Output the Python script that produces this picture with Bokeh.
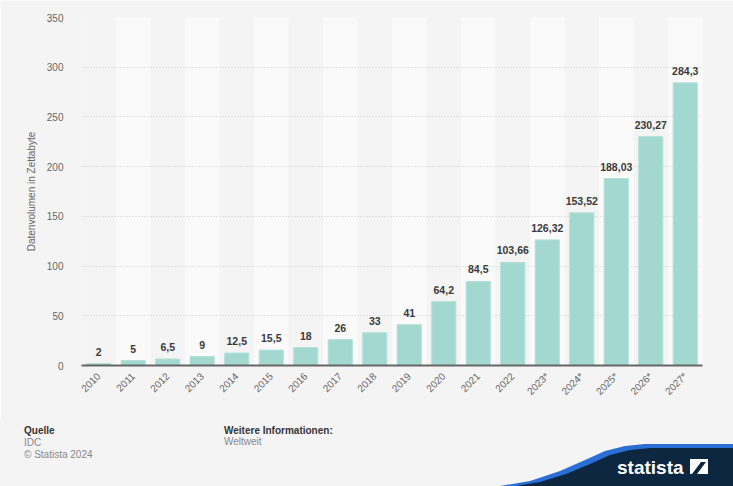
import math
from bokeh.plotting import figure
from bokeh.layouts import column
from bokeh.models import Range1d, FactorRange, ColumnDataSource, Div
from bokeh.core.properties import value
from bokeh.embed import file_html
from bokeh.resources import INLINE

# ---- data ----
years = ["2010", "2011", "2012", "2013", "2014", "2015", "2016", "2017", "2018",
         "2019", "2020", "2021", "2022", "2023*", "2024*", "2025*", "2026*", "2027*"]
volumes = [2, 5, 6.5, 9, 12.5, 15.5, 18, 26, 33, 41, 64.2, 84.5, 103.66,
           126.32, 153.52, 188.03, 230.27, 284.3]
y_ticks = [0, 50, 100, 150, 200, 250, 300, 350]
y_title = "Datenvolumen in Zettabyte"
source_lines = ["Quelle", "IDC", "© Statista 2024"]
info_lines = ["Weitere Informationen:", "Weltweit"]
logo_text = "statista"

labels = [f"{v:g}".replace(".", ",") for v in volumes]

# ---- layout constants (page pixels) ----
W = 733
H_MAIN, H_FOOT = 420, 66
FL, FR, FT = 81, 31, 17
FB = H_MAIN - 365
FONT = "Liberation Sans"
BG = "#f4f4f4"

p = figure(width=W, height=H_MAIN, x_range=FactorRange(*years, range_padding=0),
           y_range=Range1d(0, 350), output_backend="svg", toolbar_location=None,
           min_border_left=FL, min_border_right=FR, min_border_top=FT,
           min_border_bottom=FB, background_fill_color=BG, border_fill_color=BG,
           outline_line_color=None)

# alternating column stripes
p.vbar(x=years[1::2], top=350, bottom=0, width=1, fill_color="#fafafa",
       line_color=None, level="image")

src = ColumnDataSource(dict(x=years, top=volumes, label=labels))
p.vbar(x="x", top="top", width=0.7, source=src, fill_color="#a3d8d1",
       line_color="#b4e0da", line_width=1)
p.text(x="x", y="top", text="label", source=src, text_align="center",
       text_baseline="alphabetic", y_offset=-12, text_font=value(FONT),
       text_font_style="bold", text_font_size="10.5px", text_color="#3a3a3a")

# grid
p.xgrid.grid_line_color = None
p.ygrid.ticker = y_ticks
p.ygrid.grid_line_color = "#cccccc"
p.ygrid.grid_line_dash = "1 2"

# y axis
p.yaxis.ticker = y_ticks
p.yaxis.axis_line_color = None
p.yaxis.major_tick_line_color = None
p.yaxis.major_tick_out = 0
p.yaxis.minor_tick_line_color = None
p.yaxis.major_label_standoff = 18
p.yaxis.major_label_text_font = FONT
p.yaxis.major_label_text_font_size = "10px"
p.yaxis.major_label_text_color = "#666666"
p.yaxis.axis_label = y_title
p.yaxis.axis_label_text_font = FONT
p.yaxis.axis_label_text_font_size = "10px"
p.yaxis.axis_label_text_font_style = "normal"
p.yaxis.axis_label_text_color = "#666666"
p.yaxis.axis_label_standoff = 7

# x axis
p.xaxis.axis_line_color = "#666666"
p.xaxis.axis_line_width = 2
p.xaxis.major_tick_line_color = None
p.xaxis.major_tick_out = 0
p.xaxis.minor_tick_line_color = None
p.xaxis.major_label_orientation = math.pi / 4
p.xaxis.major_label_standoff = 9
p.xaxis.major_label_text_font = FONT
p.xaxis.major_label_text_font_size = "10px"
p.xaxis.major_label_text_color = "#666666"

# ---- footer (HTML block under the chart; coordinates in page px) ----
def span(x, baseline, text, bold, color):
    top = baseline - H_MAIN - 8.5
    weight = "bold" if bold else "normal"
    return (f'<span style="position:absolute;left:{x}px;top:{top}px;'
            f'font-family:\'{FONT}\';font-size:10px;line-height:10px;'
            f'font-weight:{weight};color:{color};white-space:nowrap">{text}</span>')


parts = []
for i, t in enumerate(source_lines):
    parts.append(span(24, 434 + 12 * i, t, i == 0, "#333333" if i == 0 else "#888888"))
for i, t in enumerate(info_lines):
    parts.append(span(224, 434 + 11.5 * i, t, i == 0, "#333333" if i == 0 else "#888888"))

blue_pts = [(466, 490), (500, 486), (530, 481), (560, 471), (585, 460), (605, 451),
            (625, 446), (645, 444), (745, 444), (745, 490)]
navy_pts = [(478, 490), (510, 487), (540, 482), (566, 474), (590, 464), (610, 455),
            (630, 450), (650, 448), (745, 448), (745, 490)]
icon_sq = [(690, 459), (708, 459), (708, 474), (690, 474)]
icon_cut = [(692, 474), (697, 474), (706, 462), (701, 462)]


def poly(pts, col):
    s = " ".join(f"{a},{b - H_MAIN}" for a, b in pts)
    return f'<polygon points="{s}" fill="{col}"/>'


svg = (f'<svg width="{W}" height="{H_FOOT}" style="position:absolute;left:0;top:0">'
       + poly(blue_pts, "#2b6fd6") + poly(navy_pts, "#0e2740")
       + f'<text x="617" y="{474 - H_MAIN}" fill="white" font-family="{FONT}" '
         f'font-size="19" font-weight="bold">{logo_text}</text>'
       + poly(icon_sq, "white") + poly(icon_cut, "#0e2740") + '</svg>')

html = (f'<div style="position:relative;width:{W}px;height:{H_FOOT}px;'
        f'background:{BG};overflow:hidden">' + svg + "".join(parts) + '</div>')

footer = Div(text=html, width=W, height=H_FOOT, margin=(0, 0, 0, 0),
             styles={"background-color": BG})

layout = column(p, footer, spacing=0)
open("out.html", "w").write(file_html(layout, INLINE))
